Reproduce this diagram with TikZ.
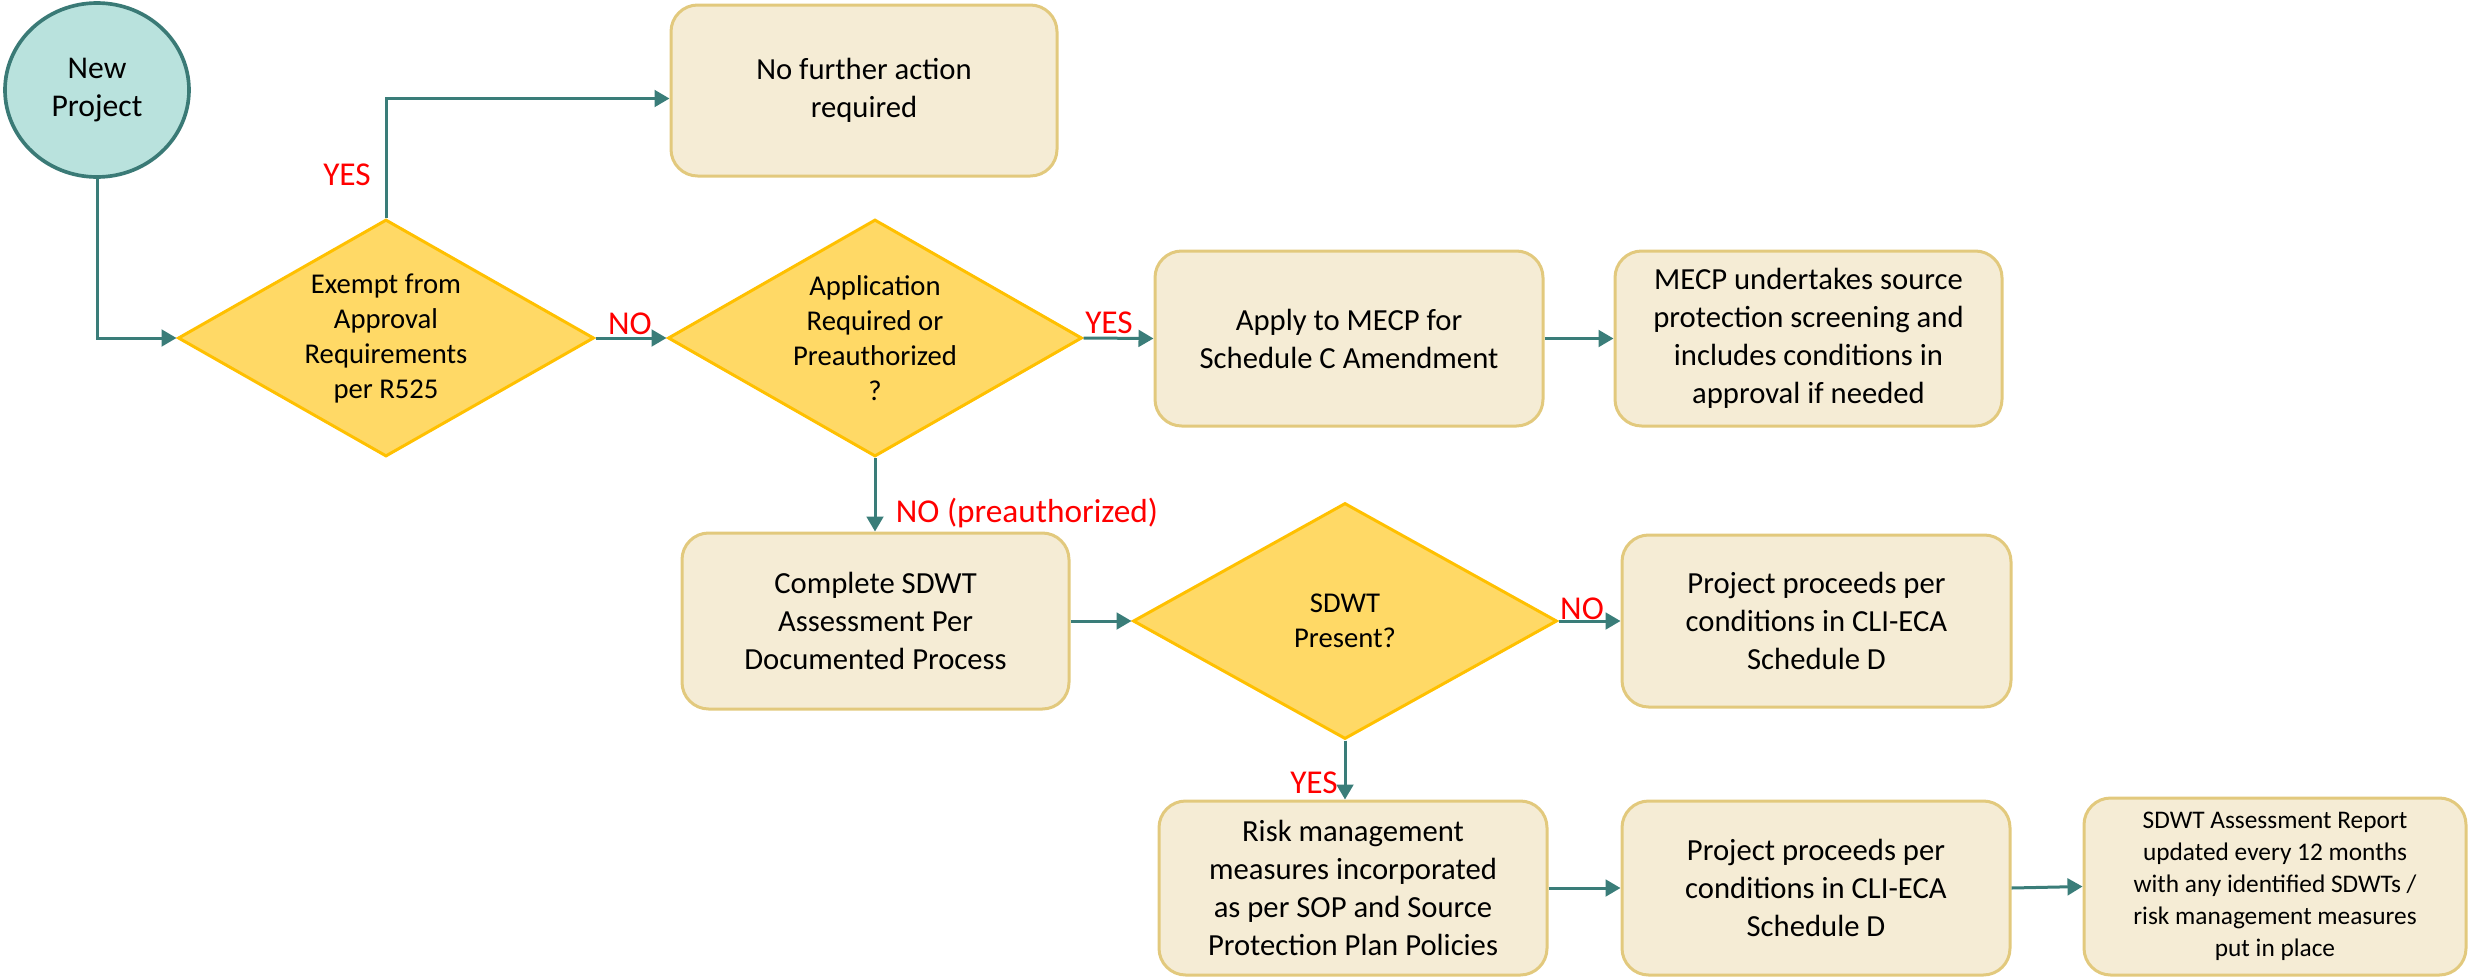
\documentclass[tikz,border=0pt]{standalone}
\usepackage{fontspec}
\setmainfont{Carlito}
\usetikzlibrary{shapes.geometric,arrows.meta}
\definecolor{teal1}{HTML}{3A7D79}
\definecolor{ellfill}{HTML}{B9E2DD}
\definecolor{ellline}{HTML}{3A7A76}
\definecolor{dfill}{HTML}{FFD966}
\definecolor{dline}{HTML}{FFC000}
\definecolor{bfill}{HTML}{F5ECD5}
\definecolor{bline}{HTML}{E2C97D}
\begin{document}
\begin{tikzpicture}[x=0.3pt,y=-0.3pt,
  box/.style={draw=bline, fill=bfill, line width=0.9pt, rounded corners=8pt, align=center, inner sep=0pt, font=\fontsize{9.2}{11.4}\selectfont},
  dec/.style={diamond, draw=dline, fill=dfill, line width=0.9pt, align=center, inner sep=0pt, shape aspect=1.76, font=\fontsize{8.6}{10.5}\selectfont},
  arr/.style={draw=teal1, line width=0.9pt, -{Triangle[length=4.5pt,width=5pt]}},
  lab/.style={text=red, font=\fontsize{10}{12}\selectfont, inner sep=0pt}]
\useasboundingbox (0,0) rectangle (2469,976);

\node[ellipse, draw=ellline, fill=ellfill, line width=1.1pt, minimum width=55.2pt, minimum height=52.2pt, inner sep=0pt, align=center, font=\fontsize{9.5}{11.4}\selectfont] (np) at (97,90) {New\\Project};

\node[box, minimum width=115.8pt, minimum height=51.3pt] (nfa) at (864,90.5) {No further action\\required};

\node[dec, minimum width=124.8pt, minimum height=71.1pt] (d1) at (386,338) {Exempt from\\Approval\\Requirements\\per R525};
\node[dec, minimum width=124.2pt, minimum height=71.1pt] (d2) at (875,338) {Application\\Required or\\Preauthorized\\?};

\node[box, minimum width=116.4pt, minimum height=52.5pt] (apply) at (1349,338.5) {Apply to MECP for\\Schedule C Amendment};
\node[box, minimum width=116.1pt, minimum height=52.5pt] (mecp) at (1808.5,338.5) {MECP undertakes source\\protection screening and\\includes conditions in\\approval if needed};

\node[box, minimum width=116.1pt, minimum height=52.8pt] (sdwt) at (875.5,621) {Complete SDWT\\Assessment Per\\Documented Process};
\node[dec, minimum width=127.2pt, minimum height=70.8pt] (d3) at (1345,621) {SDWT\\Present?};
\node[box, minimum width=116.7pt, minimum height=51.6pt] (proj1) at (1816.5,621) {Project proceeds per\\conditions in CLI-ECA\\Schedule D};

\node[box, minimum width=116.4pt, minimum height=52.2pt] (risk) at (1353,888) {Risk management\\measures incorporated\\as per SOP and Source\\Protection Plan Policies};
\node[box, minimum width=116.4pt, minimum height=52.2pt] (proj2) at (1816,888) {Project proceeds per\\conditions in CLI-ECA\\Schedule D};
\node[box, minimum width=114.6pt, minimum height=53.1pt, font=\fontsize{7.6}{9.6}\selectfont] (report) at (2275,886.5) {SDWT Assessment Report\\updated every 12 months\\with any identified SDWTs /\\risk management measures\\put in place};

\draw[arr] (np.south) |- (d1.west);
\draw[arr] (d1.north) |- ([yshift=-2.4pt]nfa.west);
\draw[arr] (d1.east) -- (d2.west);
\draw[arr] (d2.east) -- (apply.west);
\draw[arr] (apply.east) -- (mecp.west);
\draw[arr] (d2.south) -- (d2.south |- sdwt.north);
\draw[arr] (sdwt.east) -- (d3.west);
\draw[arr] (d3.east) -- (proj1.west);
\draw[arr] (d3.south) -- (d3.south |- risk.north);
\draw[arr] (risk.east) -- (proj2.west);
\draw[arr] (proj2.east) -- (report.west);

\node[lab] (l1) at (347,175) {YES};
\node[lab] (l2) at (630,324) {NO};
\node[lab] (l3) at (1109,323) {YES};
\node[lab] (l4) at (1027,513) {NO (preauthorized)};
\node[lab] (l5) at (1582,609) {NO};
\node[lab] (l6) at (1314,783) {YES};
\end{tikzpicture}
\end{document}
